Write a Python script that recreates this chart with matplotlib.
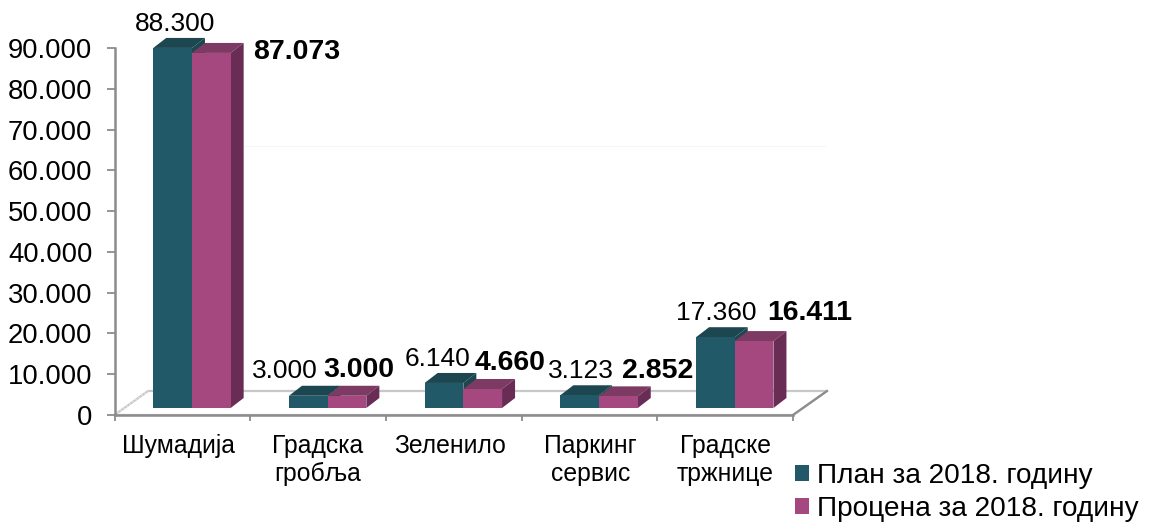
import matplotlib.pyplot as plt
from matplotlib.patches import Polygon
from matplotlib.transforms import ScaledTranslation
import numpy as np

plt.rcParams['font.family'] = ['Liberation Sans', 'DejaVu Sans']

categories = ['Шумадија', 'Градска\nгробља', 'Зеленило', 'Паркинг\nсервис', 'Градске\nтржнице']
plan = [88300, 3000, 6140, 3123, 17360]
procena = [87073, 3000, 4660, 2852, 16411]
y_ticks = [0, 10000, 20000, 30000, 40000, 50000, 60000, 70000, 80000, 90000]
y_tick_labels = ['0', '10.000', '20.000', '30.000', '40.000', '50.000', '60.000', '70.000', '80.000', '90.000']
plan_labels = ['88.300', '3.000', '6.140', '3.123', '17.360']
procena_labels = ['87.073', '3.000', '4.660', '2.852', '16.411']

# pomeraji natpisa u pikselima
plan_offsets = [(2, 24), (-23, 25), (-6, 24), (1, 24), (1, 24)]
procena_offsets = [(85, 1), (12, 26), (27, 26), (39, 25), (56, 28)]
category_shifts = [-4, 0, -4, 1, 0]

TEAL, TEAL_TOP = '#215968', '#1c4650'
PURPLE, PURPLE_TOP, PURPLE_SIDE = '#a4487f', '#7d3a63', '#682c55'
GRAY = '#8c8c8c'

W, H = 1150, 523
fig = plt.figure(figsize=(W / 100, H / 100), dpi=100)
ax = fig.add_axes([114.5 / W, (H - 415) / H, 678.5 / W, 367 / H])
ax.set_xlim(-0.5, 4.5)
ax.set_ylim(0, 90000)

# velicina jednog piksela u jedinicama podataka
px_x = 5 / 678.5
px_y = 90000 / 367
dx, dy = 13 * px_x, 10 * px_y
floor = 7 * px_y
bar_w = 38.7 * px_x
shift = 9.6 * px_x

x = np.arange(len(categories))
x_plan = x + shift - bar_w / 2
x_proc = x + shift + bar_w / 2

# pod
ax.add_patch(Polygon([(-0.5, 0), (-0.5 + 33.5 * px_x, 24 * px_y), (4.5 + 34 * px_x, 24 * px_y), (4.5, 0)],
                     closed=True, facecolor='white', edgecolor='#c8c8c8', lw=1.6, clip_on=False, zorder=1))
ax.plot([-0.5, -0.5 + 33.5 * px_x], [0, 24 * px_y], color='#e8e8e8', lw=1, ls=':', zorder=1.5, clip_on=False)
ax.plot([4.5, 4.5 + 34 * px_x], [0, 24 * px_y], color=GRAY, lw=1.6, zorder=1.5, clip_on=False)
ax.plot([0.35, 4.5 + 32 * px_x], [66000, 66000], color='#f6f6f6', lw=0.8, zorder=0.5, clip_on=False)

for i in range(len(categories)):
    for xc, v, top, side, z in [(x_plan[i], plan[i], TEAL_TOP, TEAL_TOP, 2),
                                (x_proc[i], procena[i], PURPLE_TOP, PURPLE_SIDE, 3)]:
        l, r = xc - bar_w / 2, xc + bar_w / 2
        b, t = floor, floor + v
        ax.add_patch(Polygon([(l, t), (l + dx, t + dy), (r + dx, t + dy), (r, t)], closed=True,
                             facecolor=top, edgecolor='none', clip_on=False, zorder=z))
        ax.add_patch(Polygon([(r, b), (r + dx, b + dy), (r + dx, t + dy), (r, t)], closed=True,
                             facecolor=side, edgecolor='none', clip_on=False, zorder=z))

b1 = ax.bar(x_plan, plan, bar_w, bottom=floor, color=TEAL, label='План за 2018. годину', clip_on=False, zorder=2.5)
b2 = ax.bar(x_proc, procena, bar_w, bottom=floor, color=PURPLE, label='Процена за 2018. годину', clip_on=False, zorder=3.5)

for i in range(len(categories)):
    ax.annotate(plan_labels[i], (x_plan[i], floor + plan[i]), xytext=plan_offsets[i], textcoords='offset pixels',
                ha='center', va='center', fontsize=19, color='black', zorder=5)
    ax.annotate(procena_labels[i], (x_proc[i], floor + procena[i]), xytext=procena_offsets[i], textcoords='offset pixels',
                ha='center', va='center', fontsize=20.5, fontweight='bold', color='black', zorder=5)

for s in ['top', 'right']:
    ax.spines[s].set_visible(False)
for s in ['left', 'bottom']:
    ax.spines[s].set_color(GRAY)
    ax.spines[s].set_linewidth(1.8)
    ax.spines[s].set_zorder(4)

ax.set_yticks(y_ticks, y_tick_labels, fontsize=19.8)
ax.tick_params(axis='y', length=5.5, width=1.3, color=GRAY, pad=10.5)
ax.set_xticks(np.arange(-0.5, 5, 1), [''] * 6)
ax.set_xticks(x, categories, minor=True, fontsize=17.8)
ax.tick_params(axis='x', which='major', length=4.5, width=1.3, color=GRAY)
ax.tick_params(axis='x', which='minor', length=0, pad=14)
for lab, s in zip(ax.get_xticklabels(minor=True), category_shifts):
    lab.set_transform(lab.get_transform() + ScaledTranslation(s / 100, 0, fig.dpi_scale_trans))

ax.legend(handles=[b1, b2], loc='lower left', bbox_to_anchor=(792 / W, -2 / H), bbox_transform=fig.transFigure,
          frameon=False, fontsize=20.2, handlelength=0.5, handleheight=0.5, handletextpad=0.3, labelspacing=0.25,
          borderpad=0.1, borderaxespad=0)

fig.savefig('out.png', dpi=100)
